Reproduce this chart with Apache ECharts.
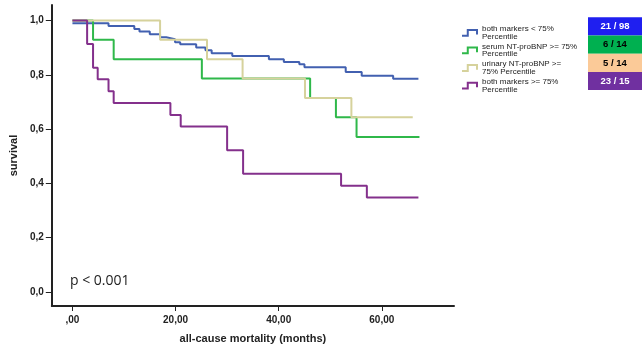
<!DOCTYPE html>
<html>
<head>
<meta charset="utf-8">
<script src="https://cdn.jsdelivr.net/npm/echarts@6/dist/echarts.min.js"></script>
<style>html,body{margin:0;padding:0;background:#fff}#c{width:642px;height:356px}</style>
</head>
<body>
<div id="c"></div>
<script>
// ---- data ----
const seriesNames = [
  'both markers < 75%\nPercentile',
  'serum NT-proBNP >= 75%\nPercentile',
  'urinary NT-proBNP >=\n75% Percentile',
  'both markers >= 75%\nPercentile'
];
const seriesColors = ['#4260b0', '#2fb84a', '#d6d29c', '#84308c'];

const blueTimes = [0, 7.0, 12.0, 13.0, 15.0, 17.0, 18.2, 19.9, 20.9, 24.0, 25.8, 27.0, 31.0, 38.1, 41.0, 44.0, 45.0, 53.0, 56.1, 62.2, 67.1];
const blueSurv  = [0.990, 0.980, 0.969, 0.959, 0.949, 0.938, 0.931, 0.920, 0.912, 0.900, 0.890, 0.879, 0.869, 0.857, 0.847, 0.839, 0.828, 0.810, 0.796, 0.785, 0.785];

const greenTimes = [0, 4.0, 8.0, 25.1, 46.1, 51.1, 55.1, 67.3];
const greenSurv  = [1.0, 0.929, 0.857, 0.786, 0.714, 0.643, 0.571, 0.571];

const tanTimes = [0, 17.0, 26.1, 33.0, 45.1, 54.1, 66.0];
const tanSurv  = [1.0, 0.929, 0.857, 0.786, 0.714, 0.643, 0.643];

const purpleTimes = [0, 2.85, 4.0, 4.9, 7.0, 8.0, 19.0, 21.0, 30.0, 33.1, 52.1, 57.1, 67.1];
const purpleSurv  = [1.0, 0.913, 0.826, 0.783, 0.739, 0.696, 0.652, 0.609, 0.522, 0.435, 0.391, 0.348, 0.348];

const xTicks = [0, 20, 40, 60];
const yTicks = [0, 0.2, 0.4, 0.6, 0.8, 1.0];

const boxLabels = ['21 / 98', '6 / 14', '5 / 14', '23 / 15'];
const boxColors = ['#1f1ff0', '#00b050', '#fbca98', '#7030a0'];
const boxTextColors = ['#ffffff', '#000000', '#000000', '#ffffff'];

const pText = 'p < 0.001';

// ---- build ----
function pairs(t, s) { return t.map((v, i) => [v, s[i]]); }
const allData = [pairs(blueTimes, blueSurv), pairs(greenTimes, greenSurv), pairs(tanTimes, tanSurv), pairs(purpleTimes, purpleSurv)];

const fontFam = '"Liberation Sans", Arial, sans-serif';

const chart = echarts.init(document.getElementById('c'), null, {renderer: 'canvas'});

const graphics = [];
boxLabels.forEach((lab, i) => {
  graphics.push({
    type: 'rect', x: 588, y: 17.3 + i * 18.2,
    shape: {x: 0, y: 0, width: 60, height: 18.2},
    style: {fill: boxColors[i]}
  });
  graphics.push({
    type: 'text', x: 615, y: 17.3 + i * 18.2 + 9.3,
    style: {text: lab, fill: boxTextColors[i], font: 'bold 9.5px ' + fontFam, align: 'center', verticalAlign: 'middle'}
  });
});
graphics.push({
  type: 'text', left: 70, top: 274,
  style: {text: pText, fill: '#222', font: '14px "Open Sans", "Noto Sans", sans-serif'}
});

chart.setOption({
  animation: false,
  grid: {left: 44, right: 188, top: 5, bottom: 50, containLabel: false},
  xAxis: {
    type: 'value', min: -4, max: 74,
    name: 'all-cause mortality (months)', nameLocation: 'middle', nameGap: 27,
    nameTextStyle: {fontFamily: fontFam, fontWeight: 'bold', fontSize: 11, color: '#222'},
    axisLine: {show: true, onZero: false, lineStyle: {color: '#222', width: 2}},
    axisTick: {show: true, length: 5, customValues: xTicks, lineStyle: {color: '#222', width: 1}},
    axisLabel: {
      customValues: xTicks, margin: 9, fontFamily: fontFam, fontWeight: 'bold', fontSize: 10, color: '#222',
      formatter: v => (v === 0 ? ',00' : v.toFixed(2).replace('.', ','))
    },
    splitLine: {show: false}
  },
  yAxis: {
    type: 'value', min: -0.052, max: 1.057,
    name: 'survival', nameLocation: 'middle', nameGap: 28, nameRotate: 90,
    nameTextStyle: {fontFamily: fontFam, fontWeight: 'bold', fontSize: 11, color: '#222'},
    axisLine: {show: true, onZero: false, lineStyle: {color: '#222', width: 2}},
    axisTick: {show: true, length: 6, customValues: yTicks, lineStyle: {color: '#222', width: 1}},
    axisLabel: {
      customValues: yTicks, margin: 8, fontFamily: fontFam, fontWeight: 'bold', fontSize: 10, color: '#222',
      formatter: v => v.toFixed(1).replace('.', ',')
    },
    splitLine: {show: false}
  },
  legend: {
    orient: 'vertical', left: 461, top: 25, padding: 0,
    itemWidth: 15, itemHeight: 6, itemGap: 2,
    icon: 'path://M0,5 L5,5 L5,0 L13,0 L13,4',
    textStyle: {fontFamily: fontFam, fontSize: 8, lineHeight: 7.6, color: '#222'},
    data: seriesNames.map((n, i) => ({
      name: n,
      itemStyle: {color: 'rgba(0,0,0,0)', borderColor: seriesColors[i], borderWidth: 2}
    }))
  },
  series: seriesNames.map((n, i) => ({
    name: n, type: 'line', step: 'end', data: allData[i],
    showSymbol: false, symbol: 'none',
    lineStyle: {color: seriesColors[i], width: 2},
    itemStyle: {color: seriesColors[i]},
    z: 2 + i
  })),
  graphic: graphics
});
</script>
</body>
</html>
